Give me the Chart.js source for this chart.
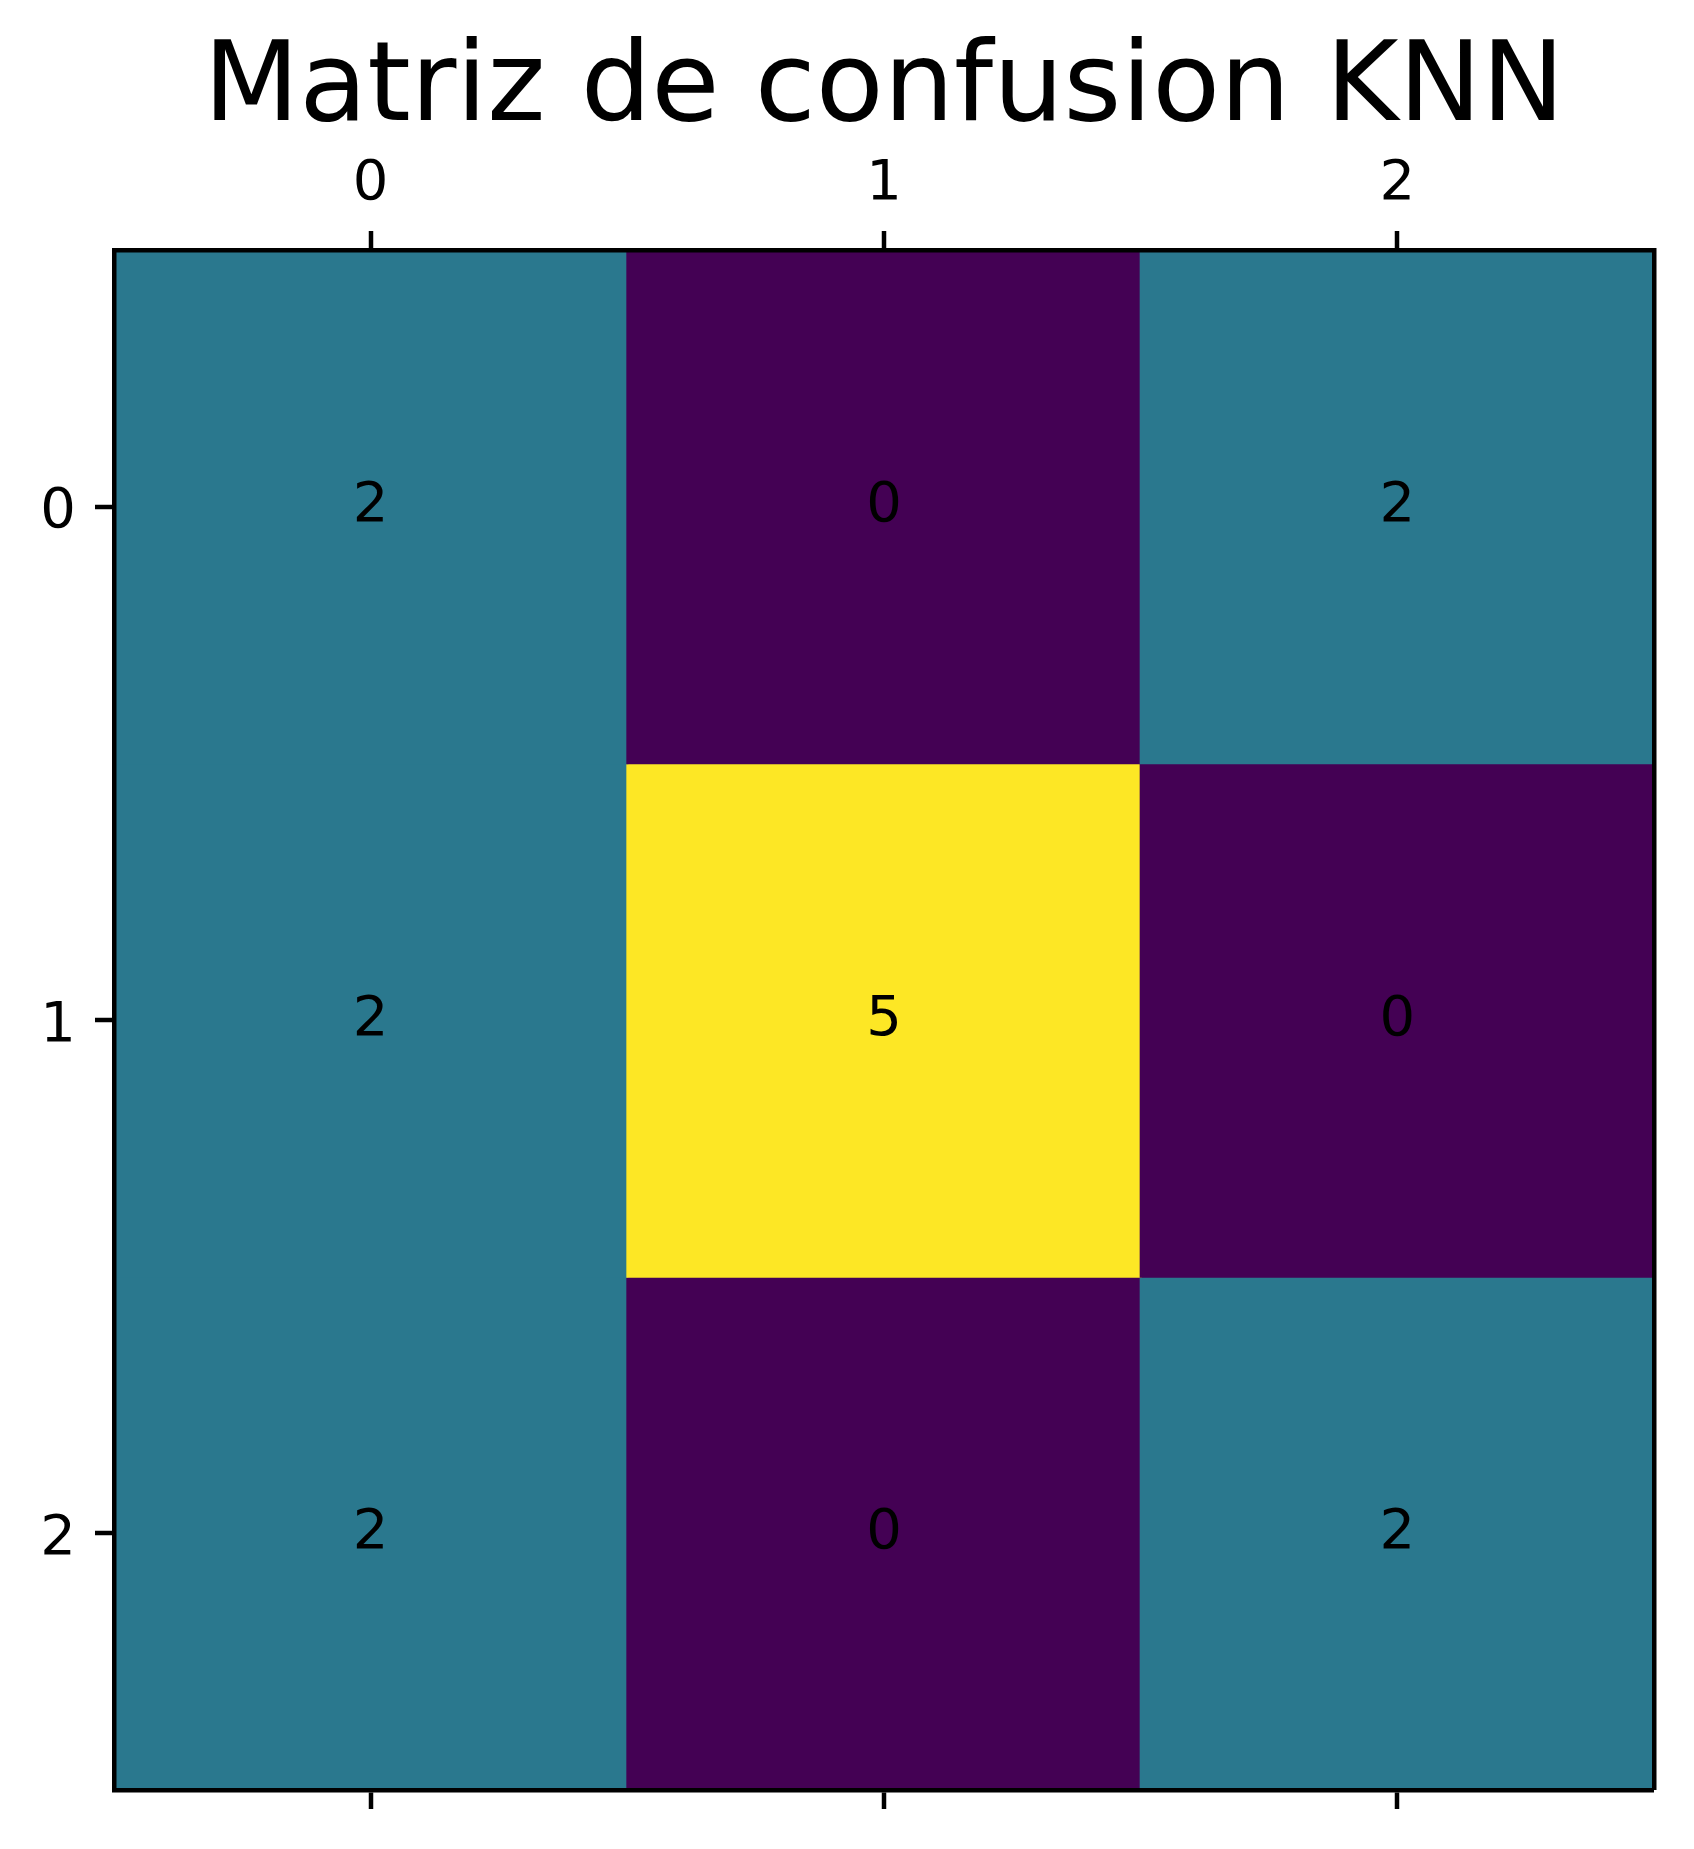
<!DOCTYPE html>
<html>
<head>
<meta charset="utf-8">
<script src="https://cdn.jsdelivr.net/npm/chart.js@4/dist/chart.umd.min.js"></script>
<style>
  html, body { margin: 0; padding: 0; background: #fff; }
  #wrap { width: 1694px; height: 1849px; }
</style>
</head>
<body>
<div id="wrap"><canvas id="c" width="1694" height="1849"></canvas></div>
<script>
// ---- data ----
const title = 'Matriz de confusion KNN';
const colLabels = ['0', '1', '2'];
const rowLabels = ['0', '1', '2'];
const row0 = [2, 0, 2];
const row1 = [2, 5, 0];
const row2 = [2, 0, 2];
const rows = [row0, row1, row2];
const vmin = 0, vmax = 5;

// ---- viridis colormap ----
const viridisStops = ['#440154','#482475','#414487','#355f8d','#2a788e','#21918c','#22a884','#44bf70','#7ad151','#bddf26','#fde725'];
function hexToRgb(h) { return [parseInt(h.slice(1,3),16), parseInt(h.slice(3,5),16), parseInt(h.slice(5,7),16)]; }
function viridis(t) {
  t = Math.max(0, Math.min(1, t));
  const p = t * (viridisStops.length - 1);
  const i = Math.min(Math.floor(p), viridisStops.length - 2);
  const f = p - i;
  const a = hexToRgb(viridisStops[i]), b = hexToRgb(viridisStops[i + 1]);
  const c = a.map((v, k) => Math.round(v + (b[k] - v) * f));
  return `rgb(${c[0]},${c[1]},${c[2]})`;
}

Chart.defaults.font.family = '"DejaVu Sans", sans-serif';
Chart.defaults.color = '#000';

const datasets = rows.map((vals, r) => ({
  label: 'row ' + rowLabels[r],
  data: vals.map(() => [r - 0.5, r + 0.5]),
  values: vals,
  backgroundColor: vals.map(v => viridis((v - vmin) / (vmax - vmin))),
  borderWidth: 0,
  inflateAmount: 1,
  grouped: false,
  barPercentage: 1,
  categoryPercentage: 1,
  xAxisID: 'x',
  yAxisID: 'y'
}));

const cellText = {
  id: 'cellText',
  afterDatasetsDraw(chart) {
    const ctx = chart.ctx;
    ctx.save();
    ctx.font = '56px "DejaVu Sans"';
    ctx.fillStyle = '#000';
    ctx.textAlign = 'center';
    ctx.textBaseline = 'middle';
    chart.data.datasets.forEach((ds, di) => {
      const meta = chart.getDatasetMeta(di);
      meta.data.forEach((el, i) => {
        ctx.fillText(String(ds.values[i]), el.x, (el.y + el.base) / 2);
      });
    });
    ctx.restore();
  }
};

const tickGrid = { display: true, drawOnChartArea: false, drawTicks: true, tickLength: 19, tickColor: '#000', tickWidth: 4.5, lineWidth: 0, offset: false };
const border = { display: true, color: '#000', width: 4.5, z: 1 };

new Chart(document.getElementById('c'), {
  type: 'bar',
  data: { labels: colLabels, datasets },
  options: {
    responsive: false,
    animation: false,
    layout: { padding: 0 },
    plugins: {
      legend: { display: false },
      tooltip: { enabled: false },
      title: {
        display: true,
        fullSize: false,
        text: title,
        color: '#000',
        font: { size: 111, weight: 'normal', lineHeight: 1.2 },
        padding: { top: 25, bottom: 0 }
      }
    },
    scales: {
      x: {
        type: 'category',
        position: 'top',
        offset: true,
        grid: tickGrid,
        border: border,
        ticks: { font: { size: 56 }, padding: 13, color: '#000', maxRotation: 0 },
        afterFit(s) { s.height = 91.8; }
      },
      x2: {
        type: 'category',
        position: 'bottom',
        offset: true,
        grid: tickGrid,
        border: border,
        ticks: { display: false },
        afterFit(s) { s.height = 59; }
      },
      y: {
        type: 'linear',
        position: 'left',
        reverse: true,
        min: -0.5,
        max: 2.5,
        grid: tickGrid,
        border: border,
        afterBuildTicks(s) { s.ticks = rowLabels.map((l, i) => ({ value: i })); },
        ticks: { font: { size: 56 }, padding: 19, labelOffset: 6, color: '#000', callback: (v) => rowLabels[v] },
        afterFit(s) { s.width = 114; }
      },
      y2: {
        type: 'linear',
        position: 'right',
        min: -0.5,
        max: 2.5,
        grid: { display: false, drawTicks: false, lineWidth: 0 },
        border: border,
        ticks: { display: false },
        afterFit(s) { s.width = 40; }
      }
    }
  },
  plugins: [cellText]
});
</script>
</body>
</html>
